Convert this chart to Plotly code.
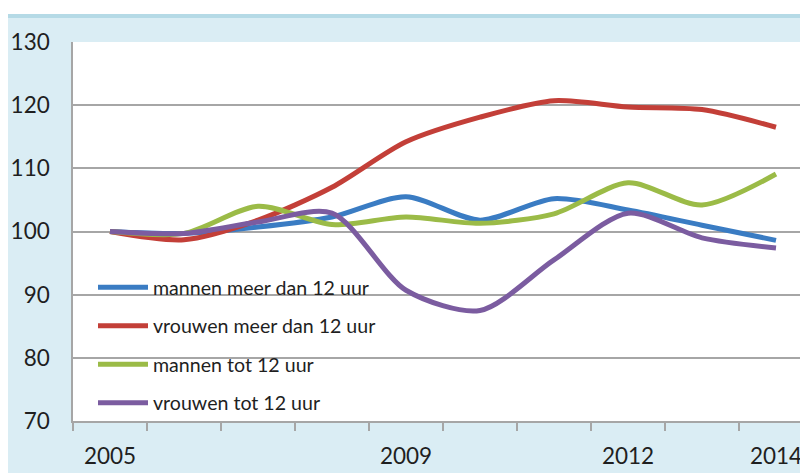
import plotly.graph_objects as go

years = [2005, 2006, 2007, 2008, 2009, 2010, 2011, 2012, 2013, 2014]
year_labels = ["2005", "2009", "2012", "2014"]
label_years = [2005, 2009, 2012, 2014]

mannen_meer = [100, 99.7, 100.7, 102.3, 105.5, 101.8, 105.2, 103.4, 101.0, 98.6]
vrouwen_meer = [100, 98.7, 101.8, 107.0, 114.2, 118.1, 120.7, 119.7, 119.3, 116.5]
mannen_tot = [100, 99.7, 104.0, 101.1, 102.3, 101.3, 102.8, 107.7, 104.2, 109.1]
vrouwen_tot = [100, 99.7, 101.5, 102.9, 90.7, 87.5, 95.5, 102.9, 99.0, 97.4]

series = [
    ("mannen meer dan 12 uur", mannen_meer, "#3A7CC3"),
    ("vrouwen meer dan 12 uur", vrouwen_meer, "#C33F38"),
    ("mannen tot 12 uur", mannen_tot, "#9BBB47"),
    ("vrouwen tot 12 uur", vrouwen_tot, "#7B5CA0"),
]

FONT = "Lato"
fig = go.Figure()
for i, (name, vals, col) in enumerate(series):
    fig.add_trace(go.Scatter(
        x=years, y=vals, name=name, mode="lines",
        line=dict(color=col, width=5, shape="spline", smoothing=0.8),
        legendgroup=f"g{i}",
    ))

# page body has an 8px margin, so the figure is drawn 8px in from the corner
OFF = 8
W, H = 808 - OFF, 473 - OFF
ml, mt = 73 - OFF, 42 - OFF
plot_bottom = 421 - OFF
mb = H - plot_bottom
plot_h = H - mt - mb

def py(Y):
    # screen pixel row -> paper y
    return (plot_bottom - (Y - OFF)) / plot_h

def px(X):
    return ((X - OFF) - ml) / (W - ml)

fig.update_layout(
    width=W, height=H,
    margin=dict(l=ml, r=0, t=mt, b=mb, pad=0, autoexpand=False),
    paper_bgcolor="#DAEDF4",
    plot_bgcolor="#FFFFFF",
    font=dict(family=FONT, size=22, color="#1F1F1F"),
    showlegend=True,
    legend=dict(
        x=px(93), xanchor="left",
        y=py(268), yanchor="top",
        bgcolor="rgba(0,0,0,0)",
        font=dict(family=FONT, size=19.6, color="#1F1F1F"),
        traceorder="grouped", tracegroupgap=10,
        itemwidth=50,
    ),
    xaxis=dict(
        range=[2004.5, 2004.5 + (W - ml) / 74.0],
        tickmode="array", tickvals=label_years, ticktext=year_labels,
        ticks="", showgrid=False, automargin=False,
        showline=True, linecolor="#A6A6A6", linewidth=1.5,
        minor=dict(tickmode="linear", tick0=2004.5, dtick=1,
                   ticks="outside", ticklen=8, tickcolor="#A6A6A6",
                   tickwidth=1.5, showgrid=False),
        ticklabelstandoff=14,
        tickfont=dict(size=22.5),
        zeroline=False,
    ),
    yaxis=dict(
        range=[70, 130], tickvals=[70, 80, 90, 100, 110, 120, 130],
        showgrid=True, gridcolor="#A6A6A6", gridwidth=1.5,
        showline=True, linecolor="#A6A6A6", linewidth=1.5,
        ticks="", ticklabelstandoff=17, automargin=False,
        tickfont=dict(size=22.5),
        zeroline=False,
    ),
    shapes=[
        dict(type="rect", xref="paper", yref="paper",
             x0=-0.2, x1=1.1, y0=py(14), y1=py(-5),
             fillcolor="#FFFFFF", line=dict(width=0), layer="below"),
        dict(type="rect", xref="paper", yref="paper",
             x0=-0.2, x1=1.1, y0=py(18), y1=py(14),
             fillcolor="#B5DAE6", line=dict(width=0), layer="below"),
    ],
)

fig.write_html("out.html")
